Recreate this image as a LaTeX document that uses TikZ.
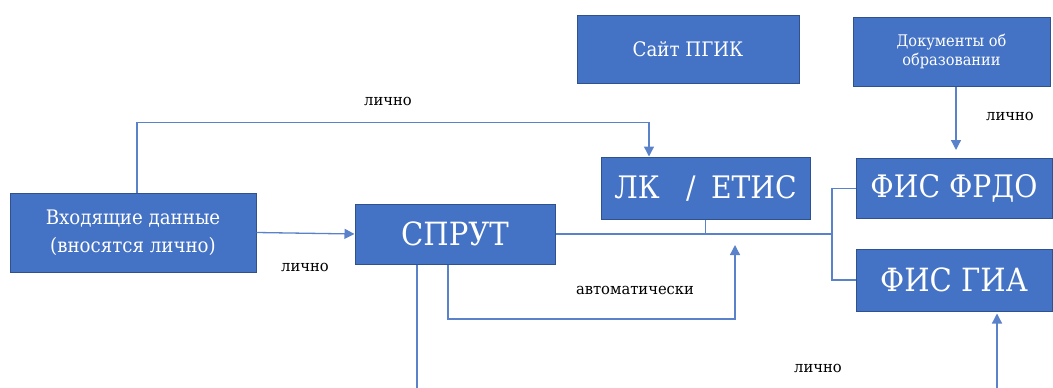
\documentclass[tikz,border=0pt]{standalone}
\usepackage{fontspec}
\newfontfamily\ruserif{DejaVu Serif}[FakeStretch=0.91]
\newfontfamily\lblfont{DejaVu Serif}[FakeStretch=0.95]
\usetikzlibrary{arrows.meta, positioning, calc}
\definecolor{boxblue}{HTML}{4472C4}
\definecolor{boxedge}{HTML}{2F528F}
\definecolor{lineblue}{HTML}{5A82CA}

\begin{document}
\begin{tikzpicture}[x=1pt, y=-1pt,
    blk/.style={draw=boxedge, line width=1pt, fill=boxblue, text=white, align=center, inner sep=0pt},
    lnk/.style={draw=lineblue, line width=1.3pt},
    arr/.style={lnk, -{Triangle[length=10pt,width=10pt]}},
    lbl/.style={font=\lblfont\fontsize{15.5}{17}\selectfont, text=black}]
    \useasboundingbox (0,0) rectangle (1053,388);

    \node[blk, minimum width=246pt, minimum height=79pt, font=\ruserif\fontsize{20}{28}\selectfont] (in) at (133,232.5) {Входящие данные\\(вносятся лично)};
    \node[blk, minimum width=200pt, minimum height=60pt, font=\ruserif\fontsize{32}{38}\selectfont] (sprut) at (455,234) {СПРУТ};
    \node[blk, minimum width=209pt, minimum height=62pt, font=\ruserif\fontsize{31}{36}\selectfont] (lk) at (705.5,188) {ЛК\hspace{0.85em}/\hspace{0.5em}ЕТИС};
    \node[blk, minimum width=222pt, minimum height=68pt, font=\ruserif\fontsize{20}{22}\selectfont] (site) at (688,49) {Сайт ПГИК};
    \node[blk, minimum width=197pt, minimum height=69pt, font=\ruserif\fontsize{16}{18.5}\selectfont] (docs) at (951.5,51.5) {Документы об\\образовании};
    \node[blk, minimum width=196pt, minimum height=60pt, font=\ruserif\fontsize{31}{36}\selectfont] (frdo) at (954,188.5) {ФИС ФРДО};
    \node[blk, minimum width=196pt, minimum height=62pt, font=\ruserif\fontsize{32}{36}\selectfont] (gia) at (954,280) {ФИС ГИА};

    \coordinate (bus) at (832,234);
    \coordinate (autoend) at (735,245);
    \coordinate (autobase) at (735,319);
    \coordinate (down) at (417,388);
    \coordinate (docsend) at (956,150);
    \coordinate (giabase) at (997,388);

    \draw[arr] ([xshift=4pt]in.north) |- ([xshift=-56.5pt,yshift=34pt]lk.north) -- ([xshift=-56.5pt]lk.north);
    \draw[arr] (in.east) -- (sprut.west);
    \draw[lnk] (sprut.east) -- (bus);
    \draw[lnk] (lk.south) -- (lk.south |- bus);
    \draw[lnk] (frdo.west) -| (bus) |- (gia.west);
    \draw[arr] ([xshift=-7pt]sprut.south) |- (autobase) -- (autoend);
    \draw[lnk] ([xshift=-38pt]sprut.south) -- (down);
    \draw[arr] ([xshift=4.5pt]docs.south) -- (docsend);
    \draw[arr] (giabase) -- ([xshift=43pt,yshift=-2pt]gia.south);

    \foreach \p/\n in {{(388,101)}/lbtop, {(305,267)}/lbin, {(1010,116)}/lbdocs, {(818,368)}/lbgia}
        \node[lbl] (\n) at \p {лично};
    \node[lbl] (lbauto) at (635,290) {автоматически};
\end{tikzpicture}
\end{document}
